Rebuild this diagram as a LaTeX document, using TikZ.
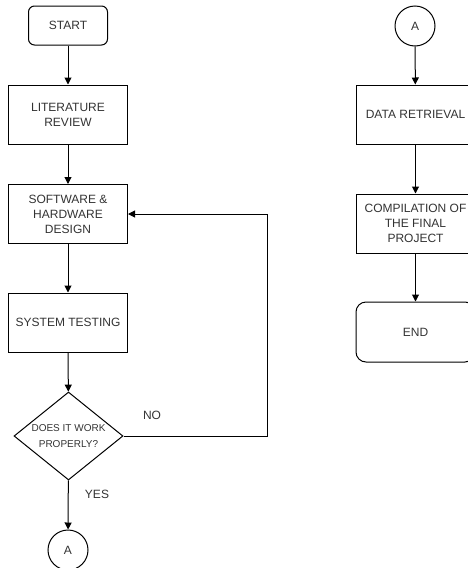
\documentclass[tikz,border=0pt]{standalone}
\usepackage{fontspec}
\setmainfont{Liberation Sans}
\usetikzlibrary{shapes.geometric, arrows.meta}
\definecolor{txtgray}{HTML}{333333}

\begin{document}
\begin{tikzpicture}[x=1pt, y=-1pt,
    box/.style={draw, line width=1pt, minimum width=119pt, minimum height=59pt, inner sep=0pt,
        align=center, text=txtgray, font=\fontsize{12}{15}\selectfont},
    term/.style={box, rounded corners=#1},
    term/.default=6pt,
    decision/.style={draw, line width=1pt, diamond, aspect=1.24, minimum width=109pt, minimum height=88pt,
        inner sep=0pt, align=center, text=txtgray, font=\fontsize{10}{16}\selectfont},
    conn/.style={draw, circle, line width=1pt, minimum size=40pt, inner sep=0pt, text=txtgray,
        font=\fontsize{12}{15}\selectfont},
    arr/.style={-{Triangle[width=7pt, length=7pt]}, line width=1pt},
    lbl/.style={text=txtgray, font=\fontsize{12}{15}\selectfont}]
    \useasboundingbox (0, 0) rectangle (468, 568);
    \clip (0, 0) rectangle (468, 568);
    \node[term, minimum width=79pt, minimum height=39pt] (start) at (68, 25.5) {START};
    \node[box] (lit) at (68, 114.5) {LITERATURE\\REVIEW};
    \node[box] (design) at (68, 214) {SOFTWARE \&\\HARDWARE\\DESIGN};
    \node[box] (test) at (68, 322.5) {SYSTEM TESTING};
    \node[decision] (works) at (68.5, 436) {DOES IT WORK\\PROPERLY?};
    \node[conn] (outA) at (68, 550) {A};
    \node[conn] (inA) at (415, 26) {A};
    \node[box] (data) at (415.5, 114.5) {DATA RETRIEVAL};
    \node[box] (compile) at (415.5, 223.5) {COMPILATION OF\\THE FINAL\\PROJECT};
    \node[term=10pt, minimum height=60pt] (stop) at (415.5, 332) {END};
    \coordinate (back) at (267, 214);
    \draw[arr] (start) -- (lit);
    \draw[arr] (lit) -- (design);
    \draw[arr] (design) -- (test);
    \draw[arr] (test) -- (works);
    \draw[arr] (works) -- (outA);
    \draw[arr] (works.east) -| (back) -- (design.east);
    \draw[arr] (inA) -- (data);
    \draw[arr] (data) -- (compile);
    \draw[arr] (compile) -- (stop);
    \node[lbl] (no) at (152, 415) {NO};
    \node[lbl] (yes) at (97, 494) {YES};
\end{tikzpicture}
\end{document}
